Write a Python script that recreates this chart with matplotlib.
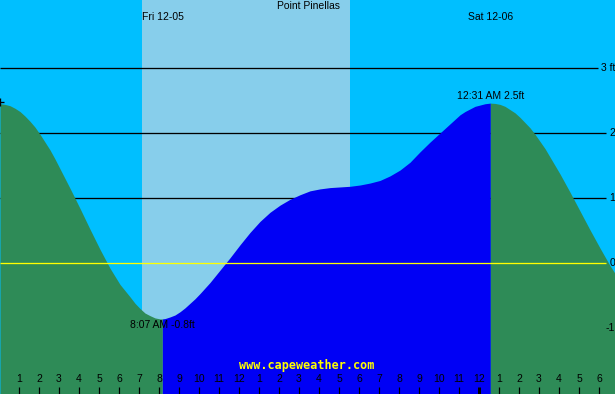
import matplotlib
matplotlib.use('Agg')
import matplotlib.pyplot as plt
import numpy as np

# ---- data (hours since Fri 12-05 midnight, tide height in ft) ----
hours = [0.0, 0.25, 0.5, 0.75, 1.0, 1.25, 1.5, 1.75, 2.0, 2.25, 2.5, 2.75,
         3.0, 3.5, 4.0, 4.5, 5.0, 5.5, 6.0, 6.5, 6.75, 7.0, 7.25, 7.5, 7.75,
         8.0, 8.117, 8.25, 8.5, 8.75, 9.0, 9.25, 9.5, 9.75, 10.0, 10.5, 11.0,
         11.5, 12.0, 12.5, 13.0, 13.5, 14.0, 14.5, 15.0, 15.5, 16.0, 16.5,
         17.0, 17.5, 18.0, 18.5, 19.0, 19.5, 20.0, 20.5, 21.0, 21.5, 22.0,
         22.5, 22.75, 23.0, 23.25, 23.5, 23.75, 24.0, 24.25, 24.517, 24.75,
         25.0, 25.25, 25.5, 25.75, 26.0, 26.25, 26.5, 26.75, 27.0, 27.25,
         27.5, 28.0, 28.5, 29.0, 29.5, 30.0, 30.5, 30.75]
heights = [2.45, 2.44, 2.42, 2.38, 2.33, 2.26, 2.18, 2.09, 1.98, 1.86, 1.74,
           1.60, 1.45, 1.15, 0.84, 0.52, 0.21, -0.08, -0.33, -0.52, -0.62,
           -0.70, -0.77, -0.81, -0.845, -0.86, -0.86, -0.855, -0.83, -0.80,
           -0.75, -0.69, -0.62, -0.55, -0.47, -0.30, -0.11, 0.08, 0.28, 0.47,
           0.64, 0.78, 0.89, 0.98, 1.05, 1.11, 1.14, 1.16, 1.17, 1.18, 1.20,
           1.23, 1.27, 1.34, 1.43, 1.55, 1.71, 1.86, 2.00, 2.14, 2.21, 2.28,
           2.33, 2.37, 2.41, 2.43, 2.45, 2.46, 2.455, 2.44, 2.41, 2.36, 2.31,
           2.24, 2.16, 2.08, 1.98, 1.87, 1.76, 1.63, 1.37, 1.09, 0.80, 0.51,
           0.23, -0.04, -0.16]
low_time, low_label = 8.117, "8:07 AM -0.8ft"
high_time, high_label = 24.517, "12:31 AM 2.5ft"
sunrise, sunset = 7.1, 17.5
title = "Point Pinellas"
day_labels = ["Fri 12-05", "Sat 12-06"]
hour_ticks = list(range(1, 31))
hour_labels = [str((h - 1) % 12 + 1) for h in hour_ticks]
level_values = [3, 2, 1, 0, -1]
level_labels = ["3 ft", "2", "1", "0", "-1"]
watermark = "www.capeweather.com"

# ---- styling ----
SKY = "#00BFFF"
DAY = "#87CEEB"
GREEN = "#2E8B57"
BLUE = "#0000F5"
YELLOW = "#FFFF00"
PX = 0.72  # 1 px in points at dpi 100

def px(x, y):
    return x / 20.0, (263.0 - y) / 65.0

fig = plt.figure(figsize=(6.15, 3.94), dpi=100)
ax = fig.add_axes([0, 0, 1, 1])
ax.set_facecolor(SKY)
ax.set_xlim(0, 30.75)
ax.set_ylim((263 - 394) / 65.0, 263 / 65.0)
ax.axis('off')
fig.patch.set_facecolor(SKY)

ax.axvspan(sunrise, sunset, color=DAY, zorder=1, lw=0)

# grid lines behind the tide
ends = {3: 598, 2: 606, 1: 606}
for lv in (3, 2, 1):
    ax.plot([0, ends[lv] / 20.0], [lv, lv], color='black', lw=PX * 1.3, zorder=2,
            solid_capstyle='butt')

h = np.array(hours)
v = np.array(heights)
base = -2.2
m1 = h <= low_time
m2 = (h >= low_time) & (h <= high_time)
m3 = h >= high_time
ax.fill_between(h[m1], v[m1], base, color=GREEN, lw=0, zorder=3)
ax.fill_between(h[m2], v[m2], base, color=BLUE, lw=0, zorder=3)
ax.fill_between(h[m3], v[m3], base, color=GREEN, lw=0, zorder=3)

# zero line on top
ax.plot([0, 606 / 20.0], [0, 0], color=YELLOW, lw=PX * 1.3, zorder=4,
        solid_capstyle='butt')

fs = 7.5
fam = ['Liberation Sans', 'DejaVu Sans']
for lv, lab in zip(level_values, level_labels):
    ax.text(615 / 20.0, lv, lab, ha='right', va='center', fontsize=fs, family=fam,
            color='black', zorder=5)

# top labels
x, y = px(308, 6)
ax.text(x, y, title, ha='center', va='center', fontsize=fs, family=fam, zorder=5)
x, y = px(142, 17)
ax.text(x, y, day_labels[0], ha='left', va='center', fontsize=fs, family=fam, zorder=5)
x, y = px(490.5, 17)
ax.text(x, y, day_labels[1], ha='center', va='center', fontsize=fs, family=fam, zorder=5)

# tide event labels
x, y = px(490.5, 96)
ax.text(x, y, high_label, ha='center', va='center', fontsize=fs, family=fam, zorder=5)
x, y = px(162.5, 324.5)
ax.text(x, y, low_label, ha='center', va='center', fontsize=fs, family=fam, zorder=5)

# previous high marker
ax.plot([0], [px(0, 102)[1]], marker='+', color='black', ms=6, mew=PX * 1.3,
        zorder=5, clip_on=True)

# hour ticks and labels
ty0 = px(0, 387)[1]
ty1 = px(0, 395)[1]
ly = px(0, 379)[1]
for hr, lab in zip(hour_ticks, hour_labels):
    xx = hr - 0.05
    lw = PX * (3 if hr == 24 else 1.2)
    ax.plot([xx, xx], [ty0, ty1], color='black', lw=lw, zorder=5,
            solid_capstyle='butt')
    ax.text(xx, ly, lab, ha='center', va='center', fontsize=fs, family=fam, zorder=5)

# watermark
x, y = px(307, 366)
ax.text(x, y, watermark, ha='center', va='center', fontsize=8.5,
        family='DejaVu Sans Mono', weight='bold', color=YELLOW, zorder=6)

fig.savefig('out.png', dpi=100, facecolor=SKY)
